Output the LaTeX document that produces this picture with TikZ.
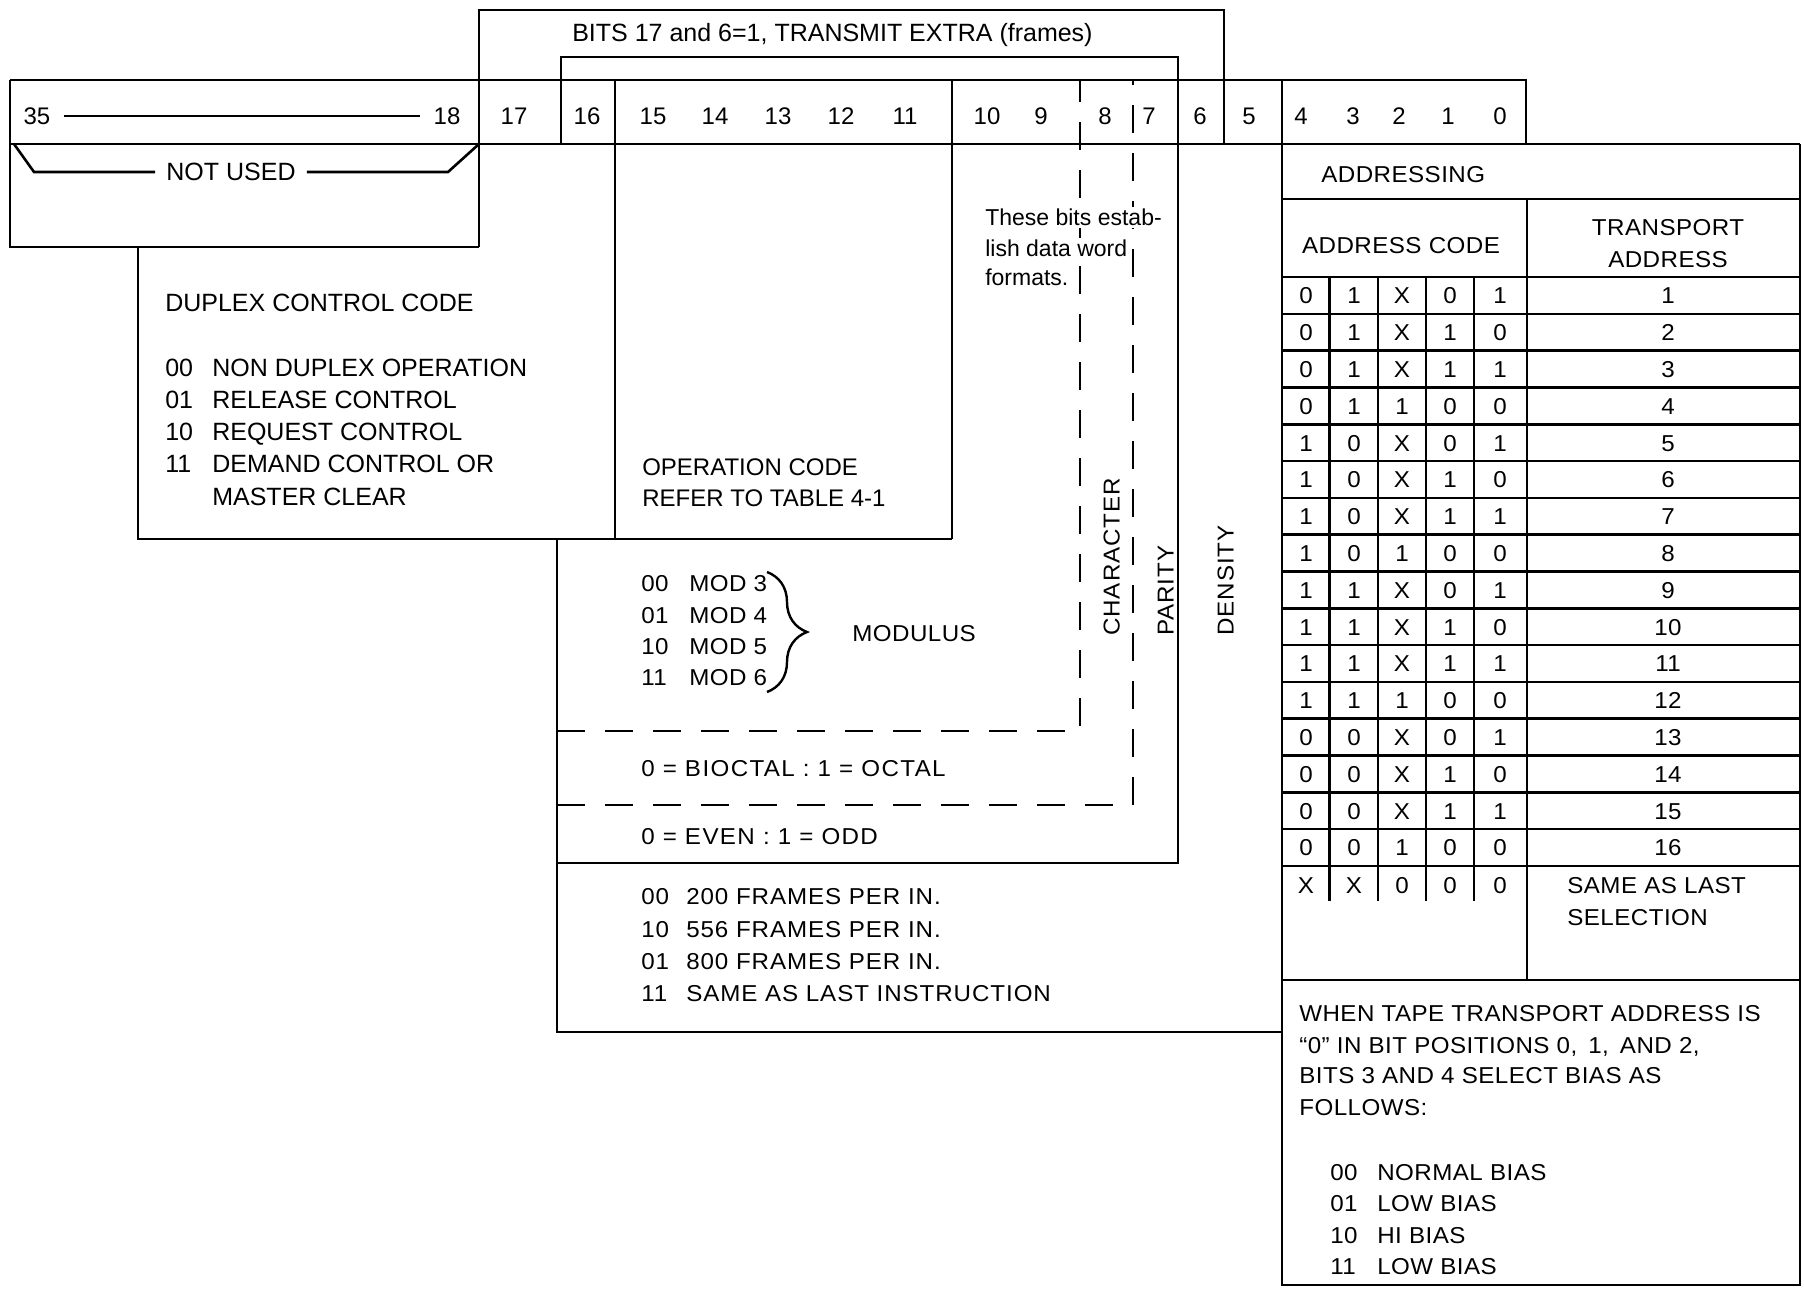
\documentclass[tikz,border=0pt]{standalone}
\usepackage{fontspec}
\setmainfont{Liberation Sans}
\newfontfamily\wideA[FakeStretch=1.05,LetterSpace=2]{Liberation Sans}
\newfontfamily\wideB[FakeStretch=1.05,LetterSpace=6]{Liberation Sans}
\newfontfamily\wideC[FakeStretch=1.05,LetterSpace=4]{Liberation Sans}
\usetikzlibrary{decorations.pathreplacing}
\begin{document}
\begin{tikzpicture}[x=1pt,y=-1pt, line width=2.6pt,
  lbl/.style={inner sep=0pt, anchor=west, text height=17pt, text depth=0pt, font=\fontsize{24}{28}\selectfont},
  big/.style={lbl, font=\fontsize{25}{29}\selectfont},
  ctr/.style={lbl, anchor=center},
  sml/.style={lbl, font=\fontsize{23}{27}\selectfont, fill=white, inner sep=2pt},
  wa/.style={lbl, font=\wideA\fontsize{23}{27}\selectfont},
  wac/.style={wa, anchor=center},
  wb/.style={lbl, font=\wideB\fontsize{23}{27}\selectfont},
  wc/.style={lbl, font=\wideC\fontsize{23}{27}\selectfont},
  dsh/.style={dash pattern=on 28pt off 20pt}]
\useasboundingbox (0,0) rectangle (1804,1288);

% ---- frame lines
\draw (10,80) -- (1526,80) -- (1526,144);
\draw (10,144) -- (1800,144);
\draw (10,80) -- (10,247) -- (479,247);
\draw (479,247) -- (479,10) -- (1224,10) -- (1224,144);
\draw (561,144) -- (561,57) -- (1178,57) -- (1178,863) -- (557,863);
\draw (615,80) -- (615,539);
\draw (952,80) -- (952,539);
\draw (138,247) -- (138,539) -- (952,539);
\draw (557,539) -- (557,1032) -- (1282,1032);
\draw (1282,80) -- (1282,1285) -- (1800,1285) -- (1800,144);
\draw[dsh] (557,731) -- (1080,731) -- (1080,80);
\draw[dsh] (557,805) -- (1133,805) -- (1133,80);

% ---- bit numbers
\node[ctr] (b35) at (37,116) {35};
\node[ctr] (b18) at (447,116) {18};
\draw[line width=2pt] ([xshift=12pt]b35.east) -- ([xshift=-12pt]b18.west);
\foreach \n/\x in {17/514,16/587,15/653,14/715,13/778,12/841,11/905,10/987,9/1041,8/1105,7/1149,6/1200,5/1249,4/1301,3/1353,2/1399,1/1448,0/1500}
  \node[ctr] (b\n) at (\x,116) {\n};

\node[big] (bits) at (571,33) {BITS 17 and 6=1, TRANSMIT EXTRA (frames)};

% ---- not used
\node[big, anchor=center] (nu) at (231,172) {NOT USED};
\draw (14,144) -- (34,172) -- ([xshift=-10pt]nu.west);
\draw ([xshift=10pt]nu.east) -- (448,172) -- (479,144);

% ---- duplex
\node[big] (dcc) at (164,303) {DUPLEX CONTROL CODE};
\foreach \c/\t/\y [count=\i] in {00/NON DUPLEX OPERATION/368,01/RELEASE CONTROL/400,10/REQUEST CONTROL/432,11/DEMAND CONTROL OR/464}{
  \node[big] (dc\i) at (164,\y) {\c};
  \node[big] (dt\i) at (211,\y) {\t};
}
\node[big] (dt5) at (211,497) {MASTER CLEAR};

% ---- operation code
\node[lbl] (op1) at (641,467) {OPERATION CODE};
\node[lbl] (op2) at (641,498) {REFER TO TABLE 4-1};

% ---- these bits
\node[sml] (tb1) at (982,217) {These bits estab-};
\node[sml] (tb2) at (982,248) {lish data word};
\node[sml] (tb3) at (982,277) {formats.};

% ---- modulus
\foreach \c/\t/\y [count=\i] in {00/MOD 3/583,01/MOD 4/615,10/MOD 5/646,11/MOD 6/677}{
  \node[wa] (mc\i) at (640,\y) {\c};
  \node[wa] (mt\i) at (688,\y) {\t};
}
\draw[line width=2.4pt, decorate, decoration={brace, amplitude=40pt}] (767,572) -- (767,692);
\node[wa] (mod) at (851,633) {MODULUS};

% ---- rotated labels
\node[wc, rotate=90] (chr) at (1111,637) {CHARACTER};
\node[wc, rotate=90] (par) at (1165,637) {PARITY};
\node[wc, rotate=90] (den) at (1225,637) {DENSITY};

% ---- octal / parity / density texts
\node[wb] (oct) at (640,768) {0 = BIOCTAL : 1 = OCTAL};
\node[wb] (evn) at (640,836) {0 = EVEN : 1 = ODD};
\foreach \c/\t/\y [count=\i] in {00/200 FRAMES PER IN./896,10/556 FRAMES PER IN./929,01/800 FRAMES PER IN./961,11/SAME AS LAST INSTRUCTION/993}{
  \node[wc] (fc\i) at (640,\y) {\c};
  \node[wc] (ft\i) at (685,\y) {\t};
}

% ---- addressing table
\draw (1282,199) -- (1800,199);
\draw (1282,277) -- (1800,277);
\draw (1527,199) -- (1527,980);
\draw (1282,980) -- (1800,980);
\foreach \i in {1,...,16} \draw (1282,277+\i*36.8) -- (1800,277+\i*36.8);
\foreach \x in {1329.6,1378,1426,1474} \draw (\x,277) -- (\x,901);
\node[wa] (adr) at (1320,174) {ADDRESSING};
\node[wac] (acd) at (1401,245) {ADDRESS CODE};
\node[wac] (ta1) at (1668,227) {TRANSPORT};
\node[wac] (ta2) at (1668,259) {ADDRESS};
\foreach \a/\b/\c/\d/\e/\t [count=\i] in {0/1/X/0/1/1,0/1/X/1/0/2,0/1/X/1/1/3,0/1/1/0/0/4,1/0/X/0/1/5,1/0/X/1/0/6,1/0/X/1/1/7,1/0/1/0/0/8,1/1/X/0/1/9,1/1/X/1/0/10,1/1/X/1/1/11,1/1/1/0/0/12,0/0/X/0/1/13,0/0/X/1/0/14,0/0/X/1/1/15,0/0/1/0/0/16}{
  \pgfmathsetmacro\yy{277+(\i-0.5)*36.8}
  \node[wac] (r\i a) at (1306,\yy) {\a};
  \node[wac] (r\i b) at (1354,\yy) {\b};
  \node[wac] (r\i c) at (1402,\yy) {\c};
  \node[wac] (r\i d) at (1450,\yy) {\d};
  \node[wac] (r\i e) at (1500,\yy) {\e};
  \node[wac] (r\i t) at (1668,\yy) {\t};
}
\node[wac] (r17a) at (1306,885) {X};
\node[wac] (r17b) at (1354,885) {X};
\node[wac] (r17c) at (1402,885) {0};
\node[wac] (r17d) at (1450,885) {0};
\node[wac] (r17e) at (1500,885) {0};
\node[wa] (sal1) at (1566,885) {SAME AS LAST};
\node[wa] (sal2) at (1566,917) {SELECTION};

% ---- bottom note
\node[wa] (w1) at (1298,1013) {WHEN TAPE TRANSPORT ADDRESS IS};
\node[wa] (w2) at (1298,1045) {“0” IN BIT POSITIONS 0,\, 1,\, AND 2,};
\node[wa] (w3) at (1298,1075) {BITS 3 AND 4 SELECT BIAS AS};
\node[wa] (w4) at (1298,1107) {FOLLOWS:};
\foreach \c/\t/\y [count=\i] in {00/NORMAL BIAS/1172,01/LOW BIAS/1203,10/HI BIAS/1235,11/LOW BIAS/1266}{
  \node[wa] (bc\i) at (1329,\y) {\c};
  \node[wa] (bt\i) at (1376,\y) {\t};
}
\end{tikzpicture}
\end{document}
